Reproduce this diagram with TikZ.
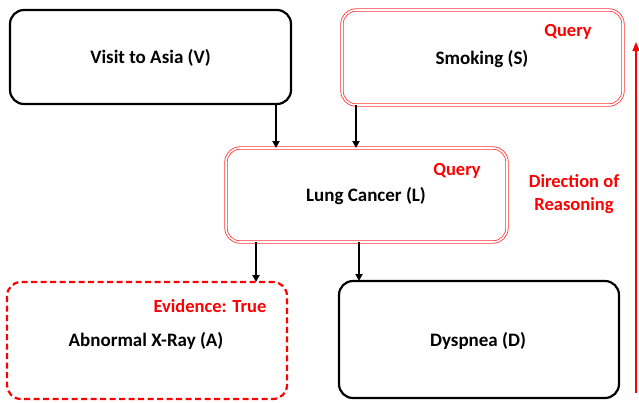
\documentclass[tikz,border=0pt]{standalone}
\usepackage{fontspec}
\setmainfont{Carlito}
\usetikzlibrary{arrows.meta}
\begin{document}
\begin{tikzpicture}[x=1pt,y=-1pt,
  font=\bfseries\fontsize{19}{22}\selectfont,
  plainbox/.style={draw=black, line width=2.2pt, rounded corners=14pt},
  querybox/.style={draw=red!80, line width=0.8pt, double=white, double distance=1.6pt, rounded corners=14pt},
  evidbox/.style={draw=red, line width=2.2pt, dash pattern=on 6pt off 3.5pt, rounded corners=14pt},
  tag/.style={text=red, font=\bfseries\fontsize{18.5}{21}\selectfont},
  link/.style={-{Triangle[length=7pt,width=7pt]}, line width=1.9pt, black}
]
\useasboundingbox (0,0) rectangle (639,402);

% nodes of the network
\draw[plainbox] (10,10) rectangle (291,104);
\node (V) at (150.5,58) {Visit to Asia (V)};
\coordinate (Vb) at (276,104);

\draw[querybox] (342,10) rectangle (623,105);
\node (S) at (482,59) {Smoking (S)};
\node[tag] (Sq) at (568,32) {Query};
\coordinate (Sb) at (356,105);

\draw[querybox] (226,148) rectangle (507,242);
\node (L) at (366,196) {Lung Cancer (L)};
\node[tag] (Lq) at (457,171) {Query};
\coordinate (Lt1) at (276,148);
\coordinate (Lt2) at (356,148);
\coordinate (Lb1) at (256,242);
\coordinate (Lb2) at (359,242);

\draw[evidbox] (7,282) rectangle (287,399);
\node (A) at (146,341) {Abnormal X-Ray (A)};
\node[tag] (Ae) at (210,306) {Evidence: True};
\coordinate (At) at (256,282);

\draw[plainbox] (339,281) rectangle (619,398);
\node (D) at (478,341) {Dyspnea (D)};
\coordinate (Dt) at (359,281);

% causal links
\draw[link] (Vb) -- (Lt1);
\draw[link] (Sb) -- (Lt2);
\draw[link] (Lb1) -- (At);
\draw[link] (Lb2) -- (Dt);

% reasoning direction
\coordinate (r0) at (636,393);
\coordinate (r1) at (636,42);
\draw[red, line width=1.6pt, -{Triangle[length=9pt,width=7pt]}] (r0) -- (r1);
\node[tag, align=center] (dir) at (574,194) {Direction of\\[2pt]Reasoning};
\end{tikzpicture}
\end{document}
